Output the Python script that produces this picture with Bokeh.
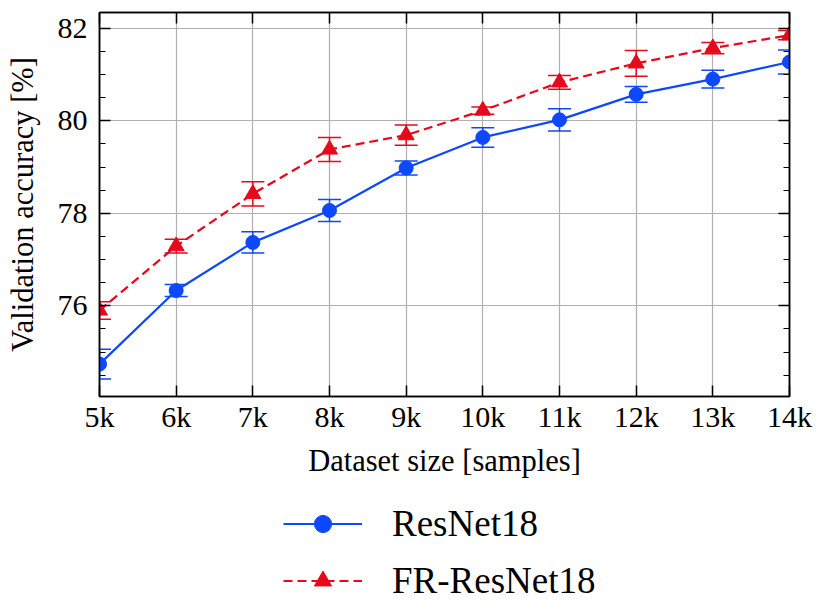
import numpy as np
from bokeh.plotting import figure
from bokeh.layouts import column
from bokeh.models import (ColumnDataSource, FixedTicker, LinearAxis, Range1d,
                          Legend, LegendItem, Whisker, TeeHead)
from bokeh.embed import file_html
from bokeh.resources import INLINE

# ---- data ----
sizes_k = [5, 6, 7, 8, 9, 10, 11, 12, 13, 14]
x_tick_labels = ["5k", "6k", "7k", "8k", "9k", "10k", "11k", "12k", "13k", "14k"]
y_ticks = [76, 78, 80, 82]
resnet_acc = [74.74, 76.33, 77.37, 78.06, 78.98, 79.64, 80.02, 80.57, 80.90, 81.27]
resnet_err = [0.32, 0.13, 0.23, 0.24, 0.15, 0.21, 0.24, 0.17, 0.19, 0.26]
fr_acc = [75.90, 77.29, 78.42, 79.38, 79.69, 80.22, 80.83, 81.24, 81.57, 81.85]
fr_err = [0.19, 0.15, 0.26, 0.26, 0.22, 0.08, 0.15, 0.28, 0.12, 0.10]
series_names = ["ResNet18", "FR-ResNet18"]

BLUE = "#0d49fb"
RED = "#e6091c"
FONT = "Liberation Serif"

W = 822
MAIN_H = 482
LEG_H = 120

p = figure(width=W, height=MAIN_H, output_backend="svg", toolbar_location=None,
           x_range=Range1d(5, 14), y_range=Range1d(74.04, 82.34),
           min_border_left=99, min_border_right=33, min_border_top=12,
           min_border_bottom=86)
p.background_fill_color = "white"
p.border_fill_color = "white"
p.outline_line_color = "black"
p.outline_line_width = 1.5

xt = FixedTicker(ticks=sizes_k)
yt = FixedTicker(ticks=y_ticks, minor_ticks=list(np.arange(74.5, 82.01, 0.5)))
overrides = {k: lab for k, lab in zip(sizes_k, x_tick_labels)}

def style_axis(ax):
    ax.axis_line_color = "black"
    ax.axis_line_width = 1.5
    ax.major_tick_line_color = "black"
    ax.major_tick_line_width = 1.5
    ax.minor_tick_line_color = "black"
    ax.minor_tick_line_width = 1.2
    ax.major_tick_in = 11
    ax.major_tick_out = 0
    ax.minor_tick_in = 6
    ax.minor_tick_out = 0
    ax.major_label_text_font = FONT
    ax.major_label_text_font_size = "30px"
    ax.major_label_text_color = "black"
    ax.axis_label_text_font = FONT
    ax.axis_label_text_font_size = "30.5px"
    ax.axis_label_text_font_style = "normal"
    ax.axis_label_text_color = "black"

xa = p.xaxis[0]
xa.ticker = xt
xa.major_label_overrides = overrides
xa.axis_label = "Dataset size [samples]"
style_axis(xa)
xa.minor_tick_line_color = None
xa.major_label_standoff = 3
xa.axis_label_standoff = 8

ya = p.yaxis[0]
ya.ticker = yt
ya.axis_label = "Validation accuracy [%]"
style_axis(ya)
ya.major_label_standoff = 12
ya.axis_label_standoff = 15

top = LinearAxis(ticker=xt)
style_axis(top)
top.minor_tick_line_color = None
top.major_label_overrides = {k: "" for k in sizes_k}
top.major_label_standoff = 0
p.add_layout(top, "above")
right = LinearAxis(ticker=yt)
style_axis(right)
right.major_label_overrides = {k: "" for k in y_ticks}
right.major_label_standoff = 0
p.add_layout(right, "right")

p.xgrid.ticker = xt
p.ygrid.ticker = yt
for g in (p.xgrid[0], p.ygrid[0]):
    g.grid_line_color = "#b0b0b0"
    g.grid_line_width = 1.2

# legend figure (its ranges keep the proxy glyphs out of view)
pl = figure(width=W, height=LEG_H, output_backend="svg", toolbar_location=None,
            x_axis_type=None, y_axis_type=None,
            x_range=Range1d(0, 1), y_range=Range1d(0, 1),
            min_border=0)
pl.outline_line_color = None
pl.background_fill_color = "white"
pl.border_fill_color = "white"
pl.xgrid.visible = False
pl.ygrid.visible = False

items = []
specs = [(resnet_acc, resnet_err, BLUE, "circle", 14, "solid"),
         (fr_acc, fr_err, RED, "triangle", 16, "9 5")]
for name, (acc, err, col, mk, sz, dash) in zip(series_names, specs):
    acc_a = np.array(acc)
    err_a = np.array(err)
    src = ColumnDataSource(dict(x=sizes_k, y=acc, lo=acc_a - err_a, hi=acc_a + err_a))
    w = Whisker(source=src, base="x", upper="hi", lower="lo", dimension="height",
                line_color=col, line_width=1.5,
                upper_head=TeeHead(size=23, line_color=col, line_width=1.5),
                lower_head=TeeHead(size=23, line_color=col, line_width=1.5))
    p.add_layout(w)
    p.line("x", "y", source=src, line_color=col, line_width=2.2, line_dash=dash)
    p.scatter("x", "y", source=src, marker=mk, size=sz, fill_color=col,
              line_color=col, line_width=1)
    ln = pl.line("x", "y", source=src, line_color=col, line_width=2.2, line_dash=dash)
    sc = pl.scatter("x", "y", source=src, marker=mk, size=sz, fill_color=col,
                    line_color=col, line_width=1)
    items.append(LegendItem(label=name, renderers=[ln, sc]))

legend = Legend(items=items, orientation="vertical", location=(184, 0),
                label_text_font=FONT, label_text_font_size="37px",
                label_text_color="black",
                glyph_width=79, glyph_height=43, label_height=43,
                label_standoff=30, spacing=14, padding=0, margin=0,
                border_line_color=None, background_fill_alpha=0)
pl.add_layout(legend, "center")

layout = column(p, pl, spacing=0)
open("out.html", "w").write(file_html(layout, INLINE))
